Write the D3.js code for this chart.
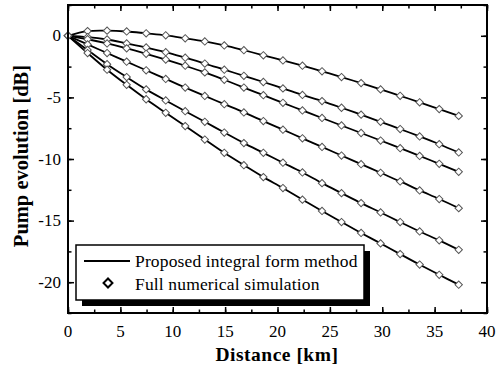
<!DOCTYPE html>
<html>
<head>
<meta charset="utf-8">
<script src="https://cdn.jsdelivr.net/npm/d3@7"></script>
<style>
  body { margin: 0; background: #fff; }
</style>
</head>
<body>
<svg id="chart"></svg>
<script>
// distance of each simulated point [km]
const distance = [0, 1.87, 3.73, 5.6, 7.46, 9.33, 11.19, 13.06, 14.92, 16.79,
  18.65, 20.52, 22.38, 24.25, 26.11, 27.98, 29.84, 31.71, 33.57, 35.44, 37.3];

// pump evolution [dB] for each of the six cases (top to bottom)
const pump1 = [0, 0.38, 0.42, 0.35, 0.2, 0.04, -0.2, -0.46, -0.78, -1.17,
  -1.58, -2.0, -2.43, -2.88, -3.35, -3.84, -4.35, -4.87, -5.4, -5.95, -6.5];
const pump2 = [0, -0.1, -0.3, -0.62, -0.95, -1.33, -1.78, -2.25, -2.75, -3.25,
  -3.75, -4.27, -4.8, -5.3, -5.84, -6.4, -6.98, -7.57, -8.17, -8.8, -9.47];
const pump3 = [0, -0.28, -0.62, -1.02, -1.46, -1.93, -2.43, -2.97, -3.57, -4.2,
  -4.82, -5.44, -6.06, -6.67, -7.28, -7.89, -8.5, -9.12, -9.75, -10.39, -11.04];
const pump4 = [0, -0.7, -1.4, -2.1, -2.8, -3.5, -4.2, -4.88, -5.55, -6.22,
  -6.92, -7.62, -8.32, -9.02, -9.72, -10.42, -11.12, -11.82, -12.55, -13.25, -13.99];
const pump5 = [0, -1.15, -2.3, -3.35, -4.35, -5.25, -6.12, -6.98, -7.85, -8.71,
  -9.5, -10.3, -11.09, -11.96, -12.77, -13.58, -14.34, -15.12, -15.88, -16.6, -17.37];
const pump6 = [0, -1.4, -2.75, -3.98, -5.15, -6.25, -7.33, -8.42, -9.5, -10.5,
  -11.47, -12.36, -13.3, -14.22, -15.12, -16.0, -16.85, -17.72, -18.57, -19.4, -20.2];

const xTicks = [0, 5, 10, 15, 20, 25, 30, 35, 40];
const yTicks = [0, -5, -10, -15, -20];
const legendLabels = ['Proposed integral form method', 'Full numerical simulation'];

const series = [pump1, pump2, pump3, pump4, pump5, pump6];

const W = 496, H = 370;
const m = { left: 68, right: 9, top: 5, bottom: 57 };
const serif = '"Liberation Serif", Tinos, "Times New Roman", Times, serif';

const svg = d3.select('#chart')
  .attr('width', W)
  .attr('height', H)
  .attr('font-family', serif)
  .style('font-family', serif);

const x = d3.scaleLinear().domain([0, 40]).range([m.left, W - m.right]);
const y = d3.scaleLinear().domain([-22.5, 2.5]).range([H - m.bottom, m.top]);

const minorX = d3.range(0, 40.1, 2.5);
const minorY = d3.range(-22.5, 2.6, 2.5);

// ticks, all pointing inwards on the four sides
function tickAxis(axis, scale, vals, size) {
  return axis(scale).tickValues(vals).tickSize(size).tickFormat('');
}
const ax = svg.append('g').attr('class', 'ticks');
ax.append('g').attr('transform', `translate(0,${y.range()[0]})`)
  .call(tickAxis(d3.axisTop, x, minorX, 3.5));
ax.append('g').attr('transform', `translate(0,${y.range()[0]})`)
  .call(tickAxis(d3.axisTop, x, xTicks, 6));
ax.append('g').attr('transform', `translate(0,${y.range()[1]})`)
  .call(tickAxis(d3.axisBottom, x, minorX, 3.5));
ax.append('g').attr('transform', `translate(0,${y.range()[1]})`)
  .call(tickAxis(d3.axisBottom, x, xTicks, 6));
ax.append('g').attr('transform', `translate(${x.range()[0]},0)`)
  .call(tickAxis(d3.axisRight, y, minorY, 3.5));
ax.append('g').attr('transform', `translate(${x.range()[0]},0)`)
  .call(tickAxis(d3.axisRight, y, yTicks, 6));
ax.append('g').attr('transform', `translate(${x.range()[1]},0)`)
  .call(tickAxis(d3.axisLeft, y, minorY, 3.5));
ax.append('g').attr('transform', `translate(${x.range()[1]},0)`)
  .call(tickAxis(d3.axisLeft, y, yTicks, 6));
ax.selectAll('.domain').remove();
ax.selectAll('line').attr('stroke', '#000').attr('stroke-width', 1.5);

// tick labels
svg.append('g').selectAll('text')
  .data(xTicks).enter().append('text')
  .attr('x', d => x(d))
  .attr('y', y.range()[0] + 24)
  .attr('text-anchor', 'middle')
  .attr('font-family', serif)
  .style('font-size', '17px')
  .text(d => d);

svg.append('g').selectAll('text')
  .data(yTicks).enter().append('text')
  .attr('x', x.range()[0] - 7)
  .attr('y', d => y(d) + 5.5)
  .attr('text-anchor', 'end')
  .attr('font-family', serif)
  .style('font-size', '17px')
  .text(d => d);

// axis titles
svg.append('text')
  .attr('x', 277)
  .attr('y', 361)
  .attr('text-anchor', 'middle')
  .attr('font-family', serif)
  .style('font-size', '19.5px')
  .style('font-weight', 'bold')
  .style('letter-spacing', '0.5px')
  .text('Distance [km]');

svg.append('text')
  .attr('transform', 'translate(28,156)rotate(-90)')
  .attr('text-anchor', 'middle')
  .attr('font-family', serif)
  .style('font-size', '20.5px')
  .style('font-weight', 'bold')
  .text('Pump evolution [dB]');

// curves
const line = d3.line()
  .x((d, i) => x(distance[i]))
  .y(d => y(d))
  .curve(d3.curveCatmullRom);

svg.append('g').selectAll('path')
  .data(series).enter().append('path')
  .attr('d', line)
  .attr('fill', 'none')
  .attr('stroke', '#000')
  .attr('stroke-width', 1.8);

const diamond = d3.symbol(d3.symbolSquare, 27)();

const pts = svg.append('g');
series.forEach(s => {
  pts.selectAll(null)
    .data(s).enter().append('path')
    .attr('d', diamond)
    .attr('transform', (d, i) => `translate(${x(distance[i])},${y(d)})rotate(45)`)
    .attr('fill', '#fff')
    .attr('stroke', '#555')
    .attr('stroke-width', 1);
});

// frame
svg.append('rect')
  .attr('x', x.range()[0])
  .attr('y', y.range()[1])
  .attr('width', x.range()[1] - x.range()[0])
  .attr('height', y.range()[0] - y.range()[1])
  .attr('fill', 'none')
  .attr('stroke', '#000')
  .attr('stroke-width', 2);

// legend with drop shadow
const lg = svg.append('g').attr('transform', 'translate(76,245)');
lg.append('rect')
  .attr('x', 6).attr('y', 6).attr('width', 288).attr('height', 55)
  .attr('fill', '#000');
lg.append('rect')
  .attr('x', 0).attr('y', 0).attr('width', 288).attr('height', 55)
  .attr('fill', '#fff')
  .attr('stroke', '#000')
  .attr('stroke-width', 1.5);
lg.append('line')
  .attr('x1', 8).attr('x2', 54).attr('y1', 16).attr('y2', 16)
  .attr('stroke', '#000').attr('stroke-width', 2);
lg.append('path')
  .attr('d', d3.symbol(d3.symbolSquare, 40)())
  .attr('transform', 'translate(32,38)rotate(45)')
  .attr('fill', '#fff')
  .attr('stroke', '#000')
  .attr('stroke-width', 2);
lg.selectAll('text.lab')
  .data(legendLabels).enter().append('text')
  .attr('class', 'lab')
  .attr('x', 59)
  .attr('y', (d, i) => 22 + i * 22.5)
  .attr('font-family', serif)
  .style('font-size', '17.5px')
  .style('letter-spacing', '0.15px')
  .text(d => d);
</script>
</body>
</html>
